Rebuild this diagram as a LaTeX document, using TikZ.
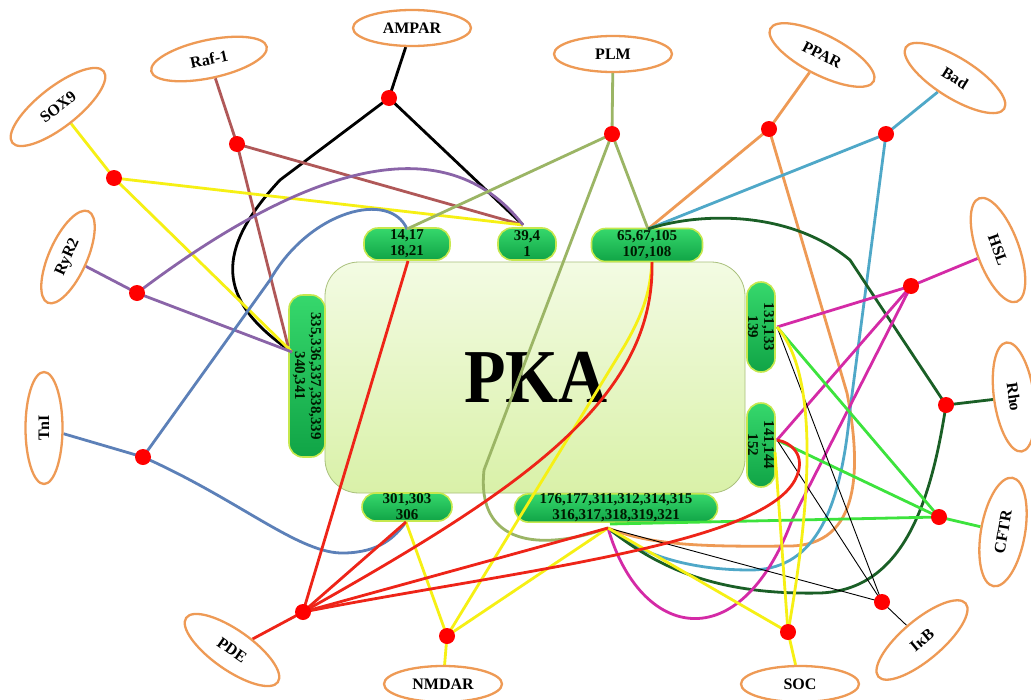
\documentclass[tikz,border=0pt]{standalone}
\usepackage{fontspec}
\setmainfont{Liberation Serif}
\usetikzlibrary{shapes.geometric}
\definecolor{ellorange}{HTML}{EE9A55}
\definecolor{boxtop}{HTML}{36D86C}
\definecolor{boxbot}{HTML}{10A446}
\definecolor{boxline}{HTML}{C6E84E}
\definecolor{pkatop}{HTML}{F3FBE3}
\definecolor{pkabot}{HTML}{D9F1A8}
\definecolor{pkaline}{HTML}{A9C07C}
\definecolor{cRaf}{HTML}{B05858}
\definecolor{cYel}{HTML}{F6F014}
\definecolor{cPur}{HTML}{8A64A8}
\definecolor{cBlu}{HTML}{5C80B8}
\definecolor{cOli}{HTML}{9BB565}
\definecolor{cOra}{HTML}{EE9A55}
\definecolor{cTea}{HTML}{4FA8C8}
\definecolor{cDgr}{HTML}{1A5F26}
\definecolor{cMag}{HTML}{D42AA6}
\definecolor{cGrn}{HTML}{3DE33D}
\definecolor{cRed}{HTML}{EE2418}
\definecolor{dotred}{HTML}{FF0000}
\pgfdeclarelayer{back}
\pgfdeclarelayer{lines}
\pgfsetlayers{back,lines,main}
\begin{document}
\begin{tikzpicture}[x=1pt,y=-1pt,
  lbl/.style={ellipse, draw=ellorange, line width=2.3pt, fill=white, inner sep=0pt,
    font=\bfseries\fontsize{16}{16}\selectfont},
  dotn/.style={circle, fill=dotred, inner sep=0pt, minimum size=16pt},
  gbox/.style={rectangle, rounded corners=14pt, draw=boxline, line width=1.6pt,
    top color=boxtop, bottom color=boxbot, align=center, inner sep=0pt,
    text=black!90!green, font=\bfseries\fontsize{15}{16}\selectfont},
  ln/.style={line width=2.8pt},
  thn/.style={line width=0.9pt, black},
]
\begin{pgfonlayer}{back}
\fill[white] (0,0) rectangle (1031,699);
% central PKA block
\node[rectangle, rounded corners=34pt, draw=pkaline, line width=0.8pt,
  top color=pkatop, bottom color=pkabot, minimum width=420pt, minimum height=231pt] (PKA) at (535,377.5) {};
% site boxes
\node[gbox, minimum width=86pt, minimum height=32pt] (b1417) at (407,244) {14,17\\18,21};
\node[gbox, minimum width=58pt, minimum height=32pt] (b394) at (527,244) {39,4\\1};
\node[gbox, minimum width=111pt, minimum height=33pt] (b65) at (647,245) {65,67,105\\107,108};
\node[gbox, minimum width=162pt, minimum height=36pt, rotate=-90] (b335) at (307,376) {335,336,337,338,339\\340,341};
\node[gbox, minimum width=90pt, minimum height=28pt, rotate=-90] (b131) at (761,327) {131,133\\139};
\node[gbox, minimum width=84pt, minimum height=28pt, rotate=-90] (b141) at (761,445) {141,144\\152};
\node[gbox, minimum width=90pt, minimum height=28pt] (b301) at (407,507) {301,303\\306};
\node[gbox, minimum width=203pt, minimum height=28pt] (b176) at (616,508) {176,177,311,312,314,315\\316,317,318,319,321};
\node[font=\bfseries\fontsize{68}{68}\selectfont] (PKAtxt) at (536,377) {\scalebox{1}[1.12]{PKA}};
\end{pgfonlayer}
\useasboundingbox (0,0) rectangle (1031,699);

% connection points on the boxes
\coordinate (p1417t) at (407,229);
\coordinate (p1417b) at (408,261);
\coordinate (p39) at (523,225);
\coordinate (p65t) at (648,229);
\coordinate (p65b) at (652,262);
\coordinate (pL) at (292,352);
\coordinate (pLr) at (288,346);
\coordinate (p131) at (777,327);
\coordinate (p141) at (777,440);
\coordinate (p141y) at (775,452);
\coordinate (p301) at (406,522);
\coordinate (p176) at (608,528);
\coordinate (p176g) at (610,524);

% label ellipses
\node[lbl, minimum width=118pt, minimum height=36pt] (AMPAR) at (412,28) {AMPAR};
\node[lbl, minimum width=118pt, minimum height=38pt, rotate=12] (Raf) at (209,59) {Raf-1};
\node[lbl, minimum width=116pt, minimum height=40pt, rotate=38] (SOX9) at (58,107) {SOX9};
\node[lbl, minimum width=100pt, minimum height=38pt, rotate=66] (RyR2) at (68,257) {RyR2};
\node[lbl, minimum width=112pt, minimum height=37pt, rotate=90] (TnI) at (44,428) {TnI};
\node[lbl, minimum width=112pt, minimum height=40pt, rotate=-35] (PDE) at (232,650) {PDE};
\node[lbl, minimum width=118pt, minimum height=36pt] (NMDAR) at (443,684) {NMDAR};
\node[lbl, minimum width=118pt, minimum height=36pt] (SOC) at (800,684) {SOC};
\node[lbl, minimum width=114pt, minimum height=40pt, rotate=40] (IkB) at (922,640) {IκB};
\node[lbl, minimum width=110pt, minimum height=44pt, rotate=80] (CFTR) at (1003,532) {CFTR};
\node[lbl, minimum width=110pt, minimum height=40pt, rotate=-82] (Rho) at (1014,397) {Rho};
\node[lbl, minimum width=110pt, minimum height=42pt, rotate=-70] (HSL) at (998,250) {HSL};
\node[lbl, minimum width=116pt, minimum height=40pt, rotate=-32] (Bad) at (955,78) {Bad};
\node[lbl, minimum width=116pt, minimum height=40pt, rotate=-27] (PPAR) at (822,55) {PPAR};
\node[lbl, minimum width=118pt, minimum height=36pt] (PLM) at (613,54) {PLM};

% junction dots
\node[dotn] (dAMPAR) at (389,98) {};
\node[dotn] (dRaf) at (237,144) {};
\node[dotn] (dSOX) at (114,178) {};
\node[dotn] (dRyR) at (137,293) {};
\node[dotn] (dTnI) at (143,457) {};
\node[dotn] (dPDE) at (303,612) {};
\node[dotn] (dNMDA) at (447,636) {};
\node[dotn] (dSOC) at (788,632) {};
\node[dotn] (dIkB) at (882,602) {};
\node[dotn] (dCFTR) at (939,517) {};
\node[dotn] (dRho) at (946,405) {};
\node[dotn] (dHSL) at (911,286) {};
\node[dotn] (dBad) at (886,134) {};
\node[dotn] (dPPAR) at (769,129) {};
\node[dotn] (dPLM) at (612,134) {};

\begin{pgfonlayer}{lines}
% AMPAR
\draw[ln,black] (AMPAR) -- (dAMPAR.center) -- (p39);
\draw[ln,black] (dAMPAR.center) -- (280,180) .. controls (215,250) and (215,300) .. (pL);
% Raf-1
\draw[ln,cRaf] (Raf) -- (dRaf.center) -- (pLr);
\draw[ln,cRaf] (dRaf.center) -- (p39);
% SOX9
\draw[ln,cYel] (SOX9) -- (dSOX.center) -- (pL);
\draw[ln,cYel] (dSOX.center) -- (p39);
% RyR2
\draw[ln,cPur] (RyR2) -- (dRyR.center) -- (pL);
\draw[ln,cPur] (dRyR.center) .. controls (260,200) and (430,105) .. (p39);
% TnI
\draw[ln,cBlu] (TnI) -- (dTnI.center);
\draw[ln,cBlu] (dTnI.center) -- (270,280) .. controls (310,210) and (390,190) .. (p1417t);
\draw[ln,cBlu] (dTnI.center) .. controls (240,500) and (300,555) .. (345,553) .. controls (380,552) and (395,537) .. (p301);
% PLM
\draw[ln,cOli] (PLM) -- (dPLM.center);
\draw[ln,cOli] (dPLM.center) -- (p1417t);
\draw[ln,cOli] (dPLM.center) -- (p65t);
\draw[ln,cOli] (dPLM.center) -- (484,470) .. controls (476,545) and (540,552) .. (p176);
% PPAR
\draw[ln,cOra] (PPAR) -- (dPPAR.center) -- (p65t);
\draw[ln,cOra] (dPPAR.center) -- (847,393) .. controls (862,470) and (860,545) .. (790,546) .. controls (700,547) and (650,545) .. (p176);
% Bad
\draw[ln,cTea] (Bad) -- (dBad.center) -- (p65t);
\draw[ln,cTea] (dBad.center) -- (850,410) .. controls (840,520) and (810,570) .. (750,570) .. controls (690,570) and (640,555) .. (p176);
% Rho
\draw[ln,cDgr] (p65t) .. controls (700,212) and (790,210) .. (850,260) -- (dRho.center) -- (Rho);
\draw[ln,cDgr] (dRho.center) .. controls (930,510) and (900,590) .. (820,593) .. controls (720,595) and (660,570) .. (p176);
% HSL
\draw[ln,cMag] (HSL) -- (dHSL.center) -- (p131);
\draw[ln,cMag] (dHSL.center) -- (p141);
\draw[ln,cMag] (dHSL.center) -- (792,520) .. controls (740,660) and (640,640) .. (p176);
% CFTR
\draw[ln,cGrn] (CFTR) -- (dCFTR.center) -- (p131);
\draw[ln,cGrn] (dCFTR.center) -- (p141);
\draw[ln,cGrn] (dCFTR.center) -- (p176g);
% IkB
\draw[thn] (IkB) -- (dIkB.center) -- (p131);
\draw[thn] (dIkB.center) -- (p141);
\draw[thn] (dIkB.center) -- (p176);
% SOC
\draw[ln,cYel] (SOC) -- (dSOC.center) -- (p176);
\draw[ln,cYel] (dSOC.center) -- (p141y);
\draw[ln,cYel] (p131) .. controls (815,370) and (815,480) .. (dSOC.center);
% NMDAR
\draw[ln,cYel] (NMDAR) -- (dNMDA.center) -- (p301);
\draw[ln,cYel] (dNMDA.center) -- (p176);
\draw[ln,cYel] (dNMDA.center) -- (625,345) .. controls (645,310) and (650,290) .. (p65b);
% PDE
\draw[ln,cRed] (PDE) -- (dPDE.center) -- (p1417b);
\draw[ln,cRed] (dPDE.center) -- (p301);
\draw[ln,cRed] (dPDE.center) -- (p176);
\draw[ln,cRed] (dPDE.center) .. controls (520,490) and (655,400) .. (p65b);
\draw[ln,cRed] (dPDE.center) .. controls (520,570) and (760,545) .. (795,480) .. controls (808,455) and (790,442) .. (p141);
\end{pgfonlayer}
\end{tikzpicture}
\end{document}
